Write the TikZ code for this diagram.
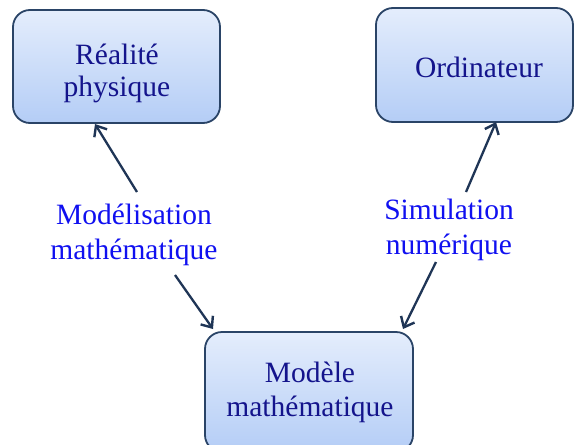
\documentclass[tikz,border=0pt]{standalone}
\usepackage{fontspec}
\setmainfont{Liberation Serif}
\usetikzlibrary{arrows.meta}
\definecolor{boxtop}{HTML}{E4EDFC}
\definecolor{boxbot}{HTML}{B4CDF6}
\definecolor{boxline}{HTML}{2A4467}
\definecolor{boxtext}{HTML}{14148C}
\definecolor{lbltext}{HTML}{1010F0}
\definecolor{arrcol}{HTML}{1F3556}
\tikzset{
  bx/.style={draw=boxline, line width=1.8pt, rounded corners=17pt,
    top color=boxtop, bottom color=boxbot, inner sep=0pt},
  bxt/.style={text=boxtext, font=\fontsize{29.5}{32}\selectfont, align=center, inner sep=0pt},
  lbl/.style={text=lbltext, font=\fontsize{29.5}{35}\selectfont, align=center, inner sep=0pt},
  arr/.style={draw=arrcol, line width=2.3pt, -{Straight Barb[length=9pt,width=15pt,line width=2.4pt]}}
}
\begin{document}
\begin{tikzpicture}[x=1pt,y=1pt]
\useasboundingbox (0,0) rectangle (574,-445);
\node[bx, minimum width=207pt, minimum height=113pt] (real) at (116.5,-66.5) {};
\node[bxt] (realt) at (117,-73) {Réalité\\physique};
\node[bx, minimum width=197pt, minimum height=114pt] (ord) at (474.5,-65) {};
\node[bxt] (ordt) at (479,-67) {Ordinateur};
\node[bx, minimum width=208pt, minimum height=120pt] (mod) at (309,-392) {};
\node[bxt, font=\fontsize{29.5}{34}\selectfont] (modt) at (310,-392) {Modèle\\mathématique};
\node[lbl] (l1) at (134,-234.5) {Modélisation\\mathématique};
\node[lbl] (l2) at (449,-230) {Simulation\\numérique};
\coordinate (a1s) at (137,-192);
\coordinate (a2s) at (175,-275);
\coordinate (b1s) at (466,-192);
\coordinate (b2s) at (436,-262);
\coordinate (a1e) at (95,-124);
\coordinate (a2e) at (213,-329);
\coordinate (b1e) at (496,-122);
\coordinate (b2e) at (403,-329);
\draw[arr] (a1s) -- (a1e);
\draw[arr] (a2s) -- (a2e);
\draw[arr] (b1s) -- (b1e);
\draw[arr] (b2s) -- (b2e);
\end{tikzpicture}
\end{document}
